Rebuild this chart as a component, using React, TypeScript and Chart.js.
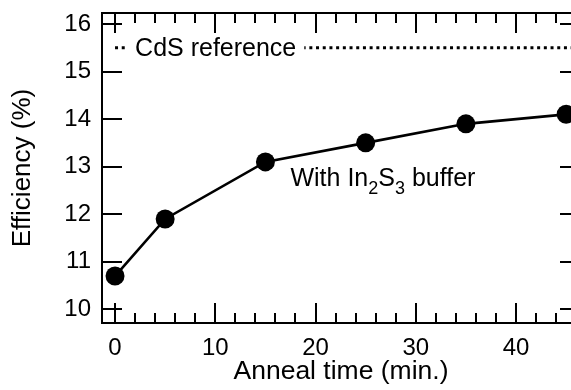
import React, { useEffect, useRef } from "react";
import { Chart, registerables } from "chart.js";

Chart.register(...registerables);

const FONT = "'Liberation Sans', Arial, Helvetica, sans-serif";

// Data
const annealTime = [0, 5, 15, 25, 35, 45];
const efficiency = [10.7, 11.9, 13.1, 13.5, 13.9, 14.1];
const cdsRefTime = [0, 47];
const cdsRefEff = [15.5, 15.5];

// Axes
const xRange = [-1.3, 46.38];
const yRange = [9.712, 16.231];
const yTicks = [10, 11, 12, 13, 14, 15, 16];
const xMajorTicks = [0, 10, 20, 30, 40];
const xMinorTicks = [2, 4, 6, 8, 12, 14, 16, 18, 22, 24, 26, 28, 32, 34, 36, 38, 42, 44, 46];

// Texts
const xTitle = "Anneal time (min.)";
const yTitle = "Efficiency (%)";
const cdsLabel = "CdS reference";
const cdsLabelAt = [2.0, 15.5];
const bufferLabelParts = [
  { text: "With In", sub: false },
  { text: "2", sub: true },
  { text: "S", sub: false },
  { text: "3", sub: true },
  { text: " buffer", sub: false },
];
const bufferLabelAt = [17.5, 12.6];

const decorPlugin = {
  id: "decor",
  afterDatasetsDraw(chart: any) {
    const { ctx, scales } = chart;
    const x = scales.x;
    const y = scales.y;
    ctx.save();
    ctx.font = `25px ${FONT}`;
    const tx = x.getPixelForValue(cdsLabelAt[0]);
    const ty = y.getPixelForValue(cdsLabelAt[1]);
    const w = ctx.measureText(cdsLabel).width;
    ctx.fillStyle = "#fff";
    ctx.fillRect(tx - 8, ty - 14, w + 16, 28);
    ctx.fillStyle = "#000";
    ctx.textBaseline = "middle";
    ctx.textAlign = "left";
    ctx.fillText(cdsLabel, tx, ty + 1);

    let bx = x.getPixelForValue(bufferLabelAt[0]);
    const by = y.getPixelForValue(bufferLabelAt[1]);
    ctx.textBaseline = "alphabetic";
    for (const p of bufferLabelParts) {
      ctx.font = p.sub ? `18px ${FONT}` : `25px ${FONT}`;
      ctx.fillText(p.text, bx, p.sub ? by + 8 : by);
      bx += ctx.measureText(p.text).width;
    }
    ctx.restore();
  },
  afterDraw(chart: any) {
    const { ctx, chartArea, scales } = chart;
    const x = scales.x;
    const y = scales.y;
    const { left, right, top, bottom } = chartArea;
    ctx.save();
    ctx.strokeStyle = "#000";
    ctx.lineWidth = 2;
    ctx.lineCap = "butt";
    ctx.strokeRect(left, top, right - left, bottom - top);
    ctx.beginPath();
    for (const v of yTicks) {
      const py = Math.round(y.getPixelForValue(v));
      ctx.moveTo(left, py);
      ctx.lineTo(left + 20, py);
      ctx.moveTo(right, py);
      ctx.lineTo(right - 20, py);
    }
    for (const v of xMajorTicks) {
      const px = Math.round(x.getPixelForValue(v));
      ctx.moveTo(px, bottom);
      ctx.lineTo(px, bottom - 20);
      ctx.moveTo(px, top);
      ctx.lineTo(px, top + 20);
    }
    for (const v of xMinorTicks) {
      const px = Math.round(x.getPixelForValue(v));
      ctx.moveTo(px, bottom);
      ctx.lineTo(px, bottom - 10);
      ctx.moveTo(px, top);
      ctx.lineTo(px, top + 10);
    }
    ctx.stroke();
    ctx.restore();
  },
};

export default function App() {
  const canvasRef = useRef<HTMLCanvasElement | null>(null);

  useEffect(() => {
    const canvas = canvasRef.current;
    if (!canvas) return;
    const chart = new Chart(canvas, {
      type: "scatter",
      data: {
        datasets: [
          {
            label: "CdS reference",
            data: cdsRefTime.map((t, i) => ({ x: t, y: cdsRefEff[i] })),
            showLine: true,
            borderColor: "#000",
            borderWidth: 3,
            borderDash: [3, 3.7],
            pointRadius: 0,
            fill: false,
          },
          {
            label: "With In2S3 buffer",
            data: annealTime.map((t, i) => ({ x: t, y: efficiency[i] })),
            showLine: true,
            borderColor: "#000",
            borderWidth: 2.6,
            pointRadius: 9.5,
            pointBackgroundColor: "#000",
            pointBorderColor: "#000",
            pointBorderWidth: 0,
            fill: false,
          },
        ],
      },
      options: {
        responsive: false,
        animation: false,
        events: [],
        layout: { padding: { top: 13, right: 20, left: 0, bottom: 0 } },
        plugins: {
          legend: { display: false },
          tooltip: { enabled: false },
        },
        scales: {
          x: {
            type: "linear",
            min: xRange[0],
            max: xRange[1],
            border: { display: false },
            grid: { display: false, drawTicks: false, tickLength: 0 },
            afterBuildTicks: (s: any) => {
              s.ticks = xMajorTicks.map((v) => ({ value: v }));
            },
            afterFit: (s: any) => {
              s.height = 67;
              s.paddingLeft = 0;
              s.paddingRight = 0;
            },
            ticks: {
              color: "#000",
              padding: 11,
              maxRotation: 0,
              font: { family: FONT, size: 24 },
              callback: (v: any) => String(v),
            },
            title: {
              display: true,
              text: xTitle,
              color: "#000",
              font: { family: FONT, size: 26.5 },
              padding: { top: 0, bottom: 2 },
            },
          },
          y: {
            type: "linear",
            min: yRange[0],
            max: yRange[1],
            border: { display: false },
            grid: { display: false, drawTicks: false, tickLength: 0 },
            afterBuildTicks: (s: any) => {
              s.ticks = yTicks.map((v) => ({ value: v }));
            },
            afterFit: (s: any) => {
              s.width = 102;
              s.paddingTop = 0;
              s.paddingBottom = 0;
            },
            ticks: {
              color: "#000",
              padding: 11,
              font: { family: FONT, size: 24 },
              callback: (v: any) => String(v),
            },
            title: {
              display: true,
              text: yTitle,
              color: "#000",
              font: { family: FONT, size: 26 },
              padding: { top: 7, bottom: 0 },
            },
          },
        },
      },
      plugins: [decorPlugin],
    });
    return () => chart.destroy();
  }, []);

  return (
    <div
      style={{
        position: "fixed",
        left: 0,
        top: 0,
        width: 571,
        height: 390,
        overflow: "hidden",
        background: "#fff",
      }}
    >
      <canvas ref={canvasRef} width={600} height={390} style={{ display: "block" }} />
    </div>
  );
}
